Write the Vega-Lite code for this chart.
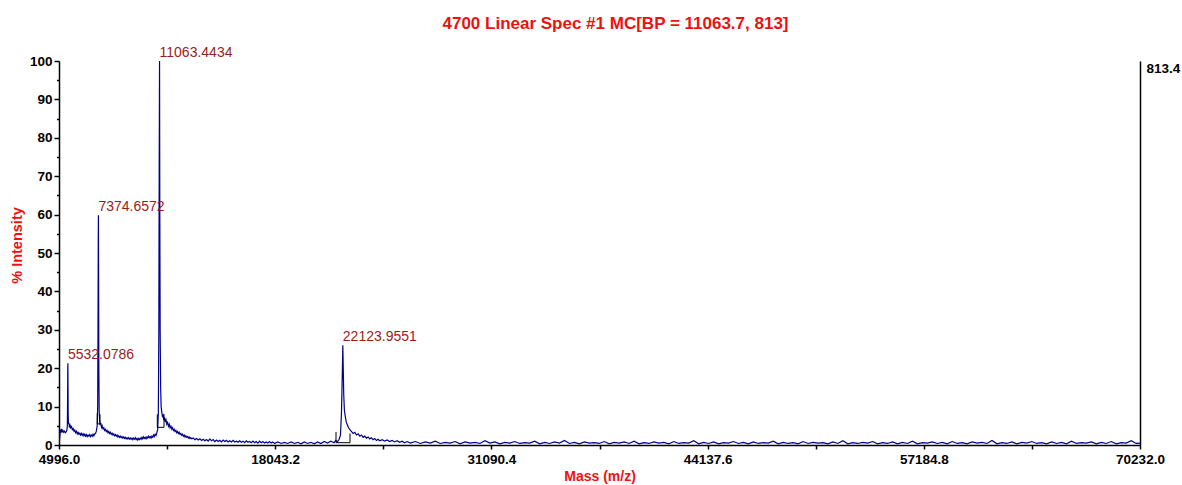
{
  "$schema": "https://vega.github.io/schema/vega-lite/v6.json",
  "width": 1081,
  "height": 384,
  "autosize": "none",
  "padding": {"left": 59, "top": 61, "right": 42, "bottom": 40},
  "config": {"font": "Liberation Sans", "view": {"stroke": null}},
  "title": {"text": "4700 Linear Spec #1 MC[BP = 11063.7, 813]", "color": "#f01010", "fontSize": 17, "fontWeight": "bold", "anchor": "middle", "dx": 16, "offset": 13},
  "datasets": {
    "spec": [
      {"m":4996,"i":0},{"m":5010,"i":0.5},{"m":5030,"i":1.5},{"m":5060,"i":3.0},{"m":5090,"i":4.0},{"m":5120,"i":3.2},{"m":5150,"i":4.2},{"m":5190,"i":3.5},{"m":5230,"i":3.8},{"m":5280,"i":3.3},{"m":5330,"i":3.6},{"m":5380,"i":3.2},{"m":5430,"i":3.5},{"m":5470,"i":3.8},{"m":5500,"i":5},{"m":5515,"i":12},{"m":5525,"i":19},{"m":5532,"i":21.3},{"m":5540,"i":15},{"m":5550,"i":8},{"m":5565,"i":5.5},{"m":5590,"i":5.8},{"m":5620,"i":4.8},{"m":5660,"i":5.2},{"m":5700,"i":4.5},{"m":5750,"i":4.8},{"m":5800,"i":4.0},{"m":5850,"i":4.3},{"m":5900,"i":3.6},{"m":5950,"i":3.9},{"m":6000,"i":3.2},{"m":6050,"i":3.6},{"m":6100,"i":2.9},{"m":6150,"i":3.3},{"m":6200,"i":2.8},{"m":6250,"i":3.1},{"m":6300,"i":2.6},{"m":6350,"i":3.0},{"m":6400,"i":2.5},{"m":6450,"i":2.9},{"m":6500,"i":2.4},{"m":6550,"i":2.8},{"m":6600,"i":2.3},{"m":6650,"i":2.7},{"m":6700,"i":2.2},{"m":6750,"i":2.6},{"m":6800,"i":2.3},{"m":6850,"i":2.7},{"m":6900,"i":2.2},{"m":6950,"i":2.6},{"m":7000,"i":2.3},{"m":7050,"i":2.8},{"m":7100,"i":2.4},{"m":7150,"i":2.9},{"m":7200,"i":3.0},{"m":7250,"i":3.6},{"m":7300,"i":5.0},{"m":7330,"i":10},{"m":7350,"i":30},{"m":7365,"i":52},{"m":7374.66,"i":59.8},{"m":7385,"i":45},{"m":7400,"i":20},{"m":7420,"i":9},{"m":7450,"i":6},{"m":7480,"i":5.2},{"m":7520,"i":5.8},{"m":7560,"i":4.6},{"m":7600,"i":5.0},{"m":7650,"i":4.2},{"m":7700,"i":4.5},{"m":7750,"i":3.8},{"m":7800,"i":4.1},{"m":7850,"i":3.5},{"m":7900,"i":3.8},{"m":7950,"i":3.2},{"m":8000,"i":3.5},{"m":8050,"i":3.0},{"m":8100,"i":3.3},{"m":8150,"i":2.8},{"m":8200,"i":3.1},{"m":8250,"i":2.6},{"m":8300,"i":2.9},{"m":8350,"i":2.4},{"m":8400,"i":2.7},{"m":8450,"i":2.3},{"m":8500,"i":2.6},{"m":8550,"i":2.1},{"m":8600,"i":2.4},{"m":8650,"i":2.0},{"m":8700,"i":2.3},{"m":8750,"i":1.9},{"m":8800,"i":2.2},{"m":8850,"i":1.8},{"m":8900,"i":2.1},{"m":8950,"i":1.7},{"m":9000,"i":2.0},{"m":9050,"i":1.6},{"m":9100,"i":1.9},{"m":9150,"i":1.6},{"m":9200,"i":1.9},{"m":9250,"i":1.5},{"m":9300,"i":1.8},{"m":9350,"i":1.5},{"m":9400,"i":1.8},{"m":9450,"i":1.4},{"m":9500,"i":1.8},{"m":9550,"i":1.5},{"m":9600,"i":1.9},{"m":9650,"i":1.4},{"m":9700,"i":1.7},{"m":9750,"i":1.3},{"m":9800,"i":1.7},{"m":9850,"i":1.4},{"m":9900,"i":1.8},{"m":9950,"i":1.5},{"m":10000,"i":2.0},{"m":10050,"i":1.6},{"m":10100,"i":2.1},{"m":10150,"i":1.7},{"m":10200,"i":2.0},{"m":10250,"i":1.6},{"m":10300,"i":2.1},{"m":10350,"i":1.8},{"m":10400,"i":2.3},{"m":10450,"i":1.9},{"m":10500,"i":2.2},{"m":10550,"i":1.8},{"m":10600,"i":2.3},{"m":10650,"i":2.0},{"m":10700,"i":2.6},{"m":10750,"i":2.2},{"m":10800,"i":2.8},{"m":10850,"i":2.5},{"m":10900,"i":3.2},{"m":10950,"i":4.0},{"m":10990,"i":8},{"m":11020,"i":30},{"m":11045,"i":75},{"m":11063.44,"i":100},{"m":11080,"i":60},{"m":11100,"i":30},{"m":11130,"i":15},{"m":11160,"i":10},{"m":11200,"i":8.5},{"m":11240,"i":7.5},{"m":11280,"i":7.8},{"m":11320,"i":6.5},{"m":11360,"i":7.2},{"m":11400,"i":6.0},{"m":11450,"i":6.6},{"m":11500,"i":5.4},{"m":11550,"i":5.9},{"m":11600,"i":4.9},{"m":11650,"i":5.4},{"m":11700,"i":4.5},{"m":11750,"i":4.9},{"m":11800,"i":4.1},{"m":11850,"i":4.5},{"m":11900,"i":3.8},{"m":11950,"i":4.1},{"m":12000,"i":3.5},{"m":12050,"i":3.8},{"m":12100,"i":3.2},{"m":12150,"i":3.5},{"m":12200,"i":3.0},{"m":12250,"i":3.3},{"m":12300,"i":2.8},{"m":12350,"i":3.0},{"m":12400,"i":2.5},{"m":12450,"i":2.8},{"m":12500,"i":2.3},{"m":12550,"i":2.6},{"m":12600,"i":2.1},{"m":12650,"i":2.4},{"m":12700,"i":2.0},{"m":12750,"i":2.2},{"m":12800,"i":1.8},{"m":12850,"i":2.1},{"m":12900,"i":1.7},{"m":12950,"i":1.9},{"m":13000,"i":1.6},{"m":13100,"i":1.8},{"m":13200,"i":1.4},{"m":13300,"i":1.7},{"m":13400,"i":1.3},{"m":13500,"i":1.6},{"m":13600,"i":1.2},{"m":13700,"i":1.5},{"m":13800,"i":1.1},{"m":13900,"i":1.4},{"m":14000,"i":1.0},{"m":14100,"i":1.6},{"m":14200,"i":1.1},{"m":14300,"i":1.4},{"m":14400,"i":0.9},{"m":14500,"i":1.3},{"m":14600,"i":0.9},{"m":14700,"i":1.2},{"m":14800,"i":0.8},{"m":14900,"i":1.3},{"m":15000,"i":0.9},{"m":15100,"i":1.2},{"m":15200,"i":0.8},{"m":15300,"i":1.1},{"m":15400,"i":0.8},{"m":15500,"i":1.2},{"m":15600,"i":0.8},{"m":15700,"i":1.0},{"m":15800,"i":0.7},{"m":15900,"i":1.1},{"m":16000,"i":0.7},{"m":16100,"i":1.0},{"m":16200,"i":0.6},{"m":16300,"i":1.1},{"m":16400,"i":0.7},{"m":16500,"i":0.9},{"m":16600,"i":0.6},{"m":16700,"i":1.0},{"m":16800,"i":0.6},{"m":16900,"i":0.9},{"m":17000,"i":0.5},{"m":17100,"i":1.0},{"m":17200,"i":0.6},{"m":17300,"i":0.9},{"m":17400,"i":0.5},{"m":17500,"i":0.8},{"m":17600,"i":0.5},{"m":17700,"i":0.9},{"m":17800,"i":0.5},{"m":17900,"i":0.8},{"m":18000,"i":0.4},{"m":18200,"i":0.8},{"m":18400,"i":0.4},{"m":18600,"i":0.7},{"m":18800,"i":0.4},{"m":19000,"i":0.8},{"m":19200,"i":0.4},{"m":19400,"i":0.7},{"m":19600,"i":0.3},{"m":19800,"i":0.8},{"m":20000,"i":0.4},{"m":20200,"i":0.7},{"m":20400,"i":0.3},{"m":20600,"i":0.8},{"m":20800,"i":0.4},{"m":21000,"i":0.9},{"m":21200,"i":0.5},{"m":21400,"i":1.0},{"m":21600,"i":0.6},{"m":21700,"i":1.2},{"m":21800,"i":0.8},{"m":21900,"i":1.5},{"m":21980,"i":2.5},{"m":22040,"i":8},{"m":22090,"i":18},{"m":22124,"i":26},{"m":22150,"i":20},{"m":22180,"i":13},{"m":22220,"i":9},{"m":22270,"i":7.5},{"m":22330,"i":6},{"m":22400,"i":5.2},{"m":22470,"i":4.5},{"m":22550,"i":4.0},{"m":22650,"i":3.5},{"m":22750,"i":3.0},{"m":22850,"i":3.3},{"m":22950,"i":2.6},{"m":23050,"i":2.9},{"m":23150,"i":2.3},{"m":23250,"i":2.6},{"m":23350,"i":2.0},{"m":23450,"i":2.3},{"m":23550,"i":1.8},{"m":23650,"i":2.1},{"m":23750,"i":1.6},{"m":23850,"i":1.9},{"m":23950,"i":1.4},{"m":24050,"i":1.7},{"m":24150,"i":1.2},{"m":24250,"i":1.5},{"m":24350,"i":1.1},{"m":24500,"i":1.4},{"m":24650,"i":1.0},{"m":24800,"i":1.3},{"m":24950,"i":0.9},{"m":25100,"i":1.2},{"m":25250,"i":0.8},{"m":25400,"i":1.1},{"m":25550,"i":0.7},{"m":25700,"i":1.0},{"m":25850,"i":0.6},{"m":26000,"i":0.9},
      {"m":26200,"i":0.5},{"m":26500,"i":0.9},{"m":26800,"i":0.4},{"m":27100,"i":0.8},{"m":27400,"i":0.5},{"m":27700,"i":1.0},{"m":28000,"i":0.4},{"m":28300,"i":0.7},{"m":28600,"i":0.5},{"m":28900,"i":0.9},{"m":29200,"i":0.3},{"m":29500,"i":0.8},{"m":29800,"i":0.5},{"m":30100,"i":0.7},{"m":30400,"i":0.4},{"m":30700,"i":1.1},{"m":31000,"i":0.5},{"m":31300,"i":0.8},{"m":31600,"i":0.3},{"m":31900,"i":0.7},{"m":32200,"i":0.5},{"m":32500,"i":0.9},{"m":32800,"i":0.4},{"m":33100,"i":0.6},{"m":33400,"i":0.5},{"m":33700,"i":1.0},{"m":34000,"i":0.3},{"m":34300,"i":0.7},{"m":34600,"i":0.4},{"m":34900,"i":0.8},{"m":35200,"i":0.5},{"m":35500,"i":1.2},{"m":35800,"i":0.4},{"m":36100,"i":0.7},{"m":36400,"i":0.3},{"m":36700,"i":0.8},{"m":37000,"i":0.5},{"m":37300,"i":0.6},{"m":37600,"i":0.4},{"m":37900,"i":0.9},{"m":38200,"i":0.3},{"m":38500,"i":0.7},{"m":38800,"i":0.5},{"m":39100,"i":0.8},{"m":39400,"i":0.4},{"m":39700,"i":1.0},{"m":40000,"i":0.3},{"m":40300,"i":0.6},{"m":40600,"i":0.4},{"m":40900,"i":0.8},{"m":41200,"i":0.5},{"m":41500,"i":0.7},{"m":41800,"i":0.3},{"m":42100,"i":0.9},{"m":42400,"i":0.4},{"m":42700,"i":0.6},{"m":43000,"i":0.5},{"m":43300,"i":1.1},{"m":43600,"i":0.3},{"m":43900,"i":0.7},{"m":44200,"i":0.4},{"m":44500,"i":0.8},{"m":44800,"i":0.3},{"m":45100,"i":0.6},{"m":45400,"i":0.5},{"m":45700,"i":0.9},{"m":46000,"i":0.4},{"m":46300,"i":0.7},{"m":46600,"i":0.3},{"m":46900,"i":0.8},{"m":47200,"i":0.4},{"m":47500,"i":0.6},{"m":47800,"i":0.5},{"m":48100,"i":1.0},{"m":48400,"i":0.3},{"m":48700,"i":0.7},{"m":49000,"i":0.4},{"m":49300,"i":0.6},{"m":49600,"i":0.3},{"m":49900,"i":0.9},{"m":50200,"i":0.4},{"m":50500,"i":0.7},{"m":50800,"i":0.5},{"m":51100,"i":0.6},{"m":51400,"i":0.3},{"m":51700,"i":0.8},{"m":52000,"i":0.4},{"m":52300,"i":1.1},{"m":52600,"i":0.3},{"m":52900,"i":0.6},{"m":53200,"i":0.4},{"m":53500,"i":0.7},{"m":53800,"i":0.5},{"m":54100,"i":0.9},{"m":54400,"i":0.3},{"m":54700,"i":0.6},{"m":55000,"i":0.4},{"m":55300,"i":0.8},{"m":55600,"i":0.3},{"m":55900,"i":0.7},{"m":56200,"i":0.4},{"m":56500,"i":1.0},{"m":56800,"i":0.3},{"m":57100,"i":0.6},{"m":57400,"i":0.5},{"m":57700,"i":0.8},{"m":58000,"i":0.4},{"m":58300,"i":0.7},{"m":58600,"i":0.3},{"m":58900,"i":0.9},{"m":59200,"i":0.4},{"m":59500,"i":0.6},{"m":59800,"i":0.3},{"m":60100,"i":0.8},{"m":60400,"i":0.5},{"m":60700,"i":0.7},{"m":61000,"i":0.4},{"m":61300,"i":1.2},{"m":61600,"i":0.3},{"m":61900,"i":0.6},{"m":62200,"i":0.4},{"m":62500,"i":0.8},{"m":62800,"i":0.3},{"m":63100,"i":0.7},{"m":63400,"i":0.5},{"m":63700,"i":0.9},{"m":64000,"i":0.4},{"m":64300,"i":0.6},{"m":64600,"i":0.3},{"m":64900,"i":0.8},{"m":65200,"i":0.4},{"m":65500,"i":0.7},{"m":65800,"i":0.3},{"m":66100,"i":1.0},{"m":66400,"i":0.4},{"m":66700,"i":0.6},{"m":67000,"i":0.5},{"m":67300,"i":0.8},{"m":67600,"i":0.3},{"m":67900,"i":0.7},{"m":68200,"i":0.4},{"m":68500,"i":0.9},{"m":68800,"i":0.3},{"m":69100,"i":0.6},{"m":69400,"i":0.5},{"m":69700,"i":1.1},{"m":70000,"i":0.4},{"m":70232,"i":0.5}
    ],
    "boxes": [
      {"m":7307,"i":8.3,"g":"a","o":1},{"m":7307,"i":5.5,"g":"a","o":2},{"m":7470,"i":5.5,"g":"a","o":3},{"m":7470,"i":8.0,"g":"a","o":4},
      {"m":10928,"i":8.0,"g":"b","o":1},{"m":10928,"i":4.6,"g":"b","o":2},{"m":11333,"i":4.6,"g":"b","o":3},{"m":11333,"i":8.0,"g":"b","o":4},
      {"m":21713,"i":3.4,"g":"c","o":1},{"m":21713,"i":0.6,"g":"c","o":2},{"m":22558,"i":0.6,"g":"c","o":3},{"m":22558,"i":3.0,"g":"c","o":4}
    ],
    "peaks": [
      {"m":5532.0786,"i":21.3,"label":"5532.0786"},
      {"m":7374.6572,"i":59.8,"label":"7374.6572"},
      {"m":11063.4434,"i":100,"label":"11063.4434"},
      {"m":22123.9551,"i":26,"label":"22123.9551"}
    ]
  },
  "resolve": {"axis": {"y": "independent"}},
  "layer": [
    {
      "data": {"name": "spec"},
      "mark": {"type": "line", "color": "#00008b", "strokeWidth": 1.2, "clip": true},
      "encoding": {
        "x": {"field": "m", "type": "quantitative",
          "scale": {"domain": [4996, 70232], "nice": false, "zero": false},
          "axis": {"title": "Mass (m/z)", "titleColor": "#f01010", "titleFontSize": 14, "titleFontWeight": "bold", "titlePadding": 4,
            "values": [4996, 11519.6, 18043.2, 24566.8, 31090.4, 37614, 44137.6, 50661.2, 57184.8, 63708.4, 70232],
            "labelExpr": "round((datum.value - 4996) / 6523.6) % 2 === 0 ? format(datum.value, '.1f') : ''",
            "labelFontSize": 13.5, "labelFontWeight": "bold", "labelColor": "black", "labelOverlap": false, "labelFlush": false, "labelPadding": 3,
            "grid": false, "domainColor": "black", "domainWidth": 1.5, "tickColor": "black", "tickWidth": 1.5, "tickSize": 4}},
        "y": {"field": "i", "type": "quantitative",
          "scale": {"domain": [0, 100], "nice": false},
          "axis": {"title": "% Intensity", "titleColor": "#f01010", "titleFontSize": 14.5, "titleFontWeight": "bold", "titlePadding": 5, "titleY": 184,
            "values": [0,5,10,15,20,25,30,35,40,45,50,55,60,65,70,75,80,85,90,95,100],
            "labelExpr": "datum.value % 10 === 0 ? datum.value : ''",
            "labelFontSize": 13.5, "labelFontWeight": "bold", "labelColor": "black", "labelOverlap": false, "labelPadding": 2,
            "grid": false, "domainColor": "black", "domainWidth": 1.5, "tickColor": "black", "tickWidth": 1.5,
            "tickSize": {"condition": {"test": "datum.value % 10 !== 0", "value": 2.5}, "value": 5}}}
      }
    },
    {
      "data": {"name": "boxes"},
      "mark": {"type": "line", "color": "black", "strokeWidth": 1},
      "encoding": {
        "x": {"field": "m", "type": "quantitative"},
        "y": {"field": "i", "type": "quantitative",
          "axis": {"orient": "right", "title": null, "values": [100], "labelExpr": "'813.4'", "ticks": false, "labelBaseline": "top", "labelAlign": "left", "labelPadding": 6,
            "labelFontSize": 13.5, "labelFontWeight": "bold", "labelColor": "black", "grid": false, "domainColor": "black", "domainWidth": 1.5}},
        "detail": {"field": "g"},
        "order": {"field": "o"}
      }
    },
    {
      "data": {"name": "peaks"},
      "mark": {"type": "text", "align": "left", "baseline": "bottom", "dy": -1, "fontSize": 14, "color": "#9b1b1b"},
      "encoding": {
        "x": {"field": "m", "type": "quantitative"},
        "y": {"field": "i", "type": "quantitative", "axis": null},
        "text": {"field": "label"}
      }
    }
  ]
}
